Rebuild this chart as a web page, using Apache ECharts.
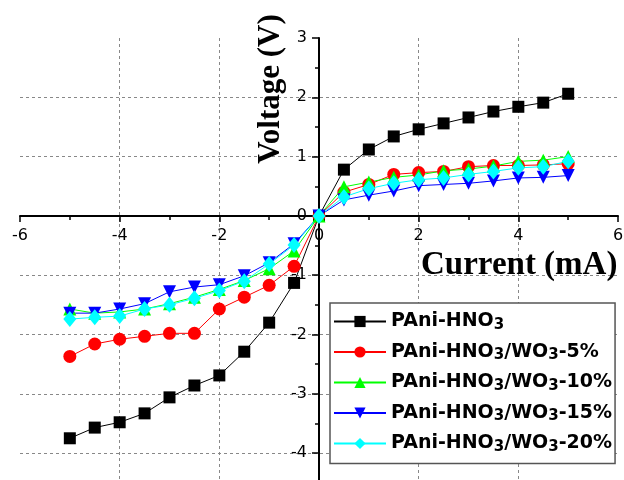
<!DOCTYPE html>
<html><head><meta charset="utf-8">
<script src="https://cdn.jsdelivr.net/npm/echarts@6/dist/echarts.min.js"></script>
<style>html,body{margin:0;padding:0;background:#fff}#c{width:624px;height:480px}</style>
</head><body><div id="c"></div>
<script>
const currentX = [-5,-4.5,-4,-3.5,-3,-2.5,-2,-1.5,-1,-0.5,0,0.5,1,1.5,2,2.5,3,3.5,4,4.5,5];
const vHNO3   = [-3.75,-3.57,-3.48,-3.33,-3.06,-2.86,-2.69,-2.29,-1.80,-1.13,0,0.78,1.12,1.34,1.46,1.56,1.66,1.76,1.84,1.91,2.06];
const vWO3_5  = [-2.37,-2.16,-2.08,-2.03,-1.98,-1.98,-1.57,-1.37,-1.17,-0.85,0,0.40,0.53,0.70,0.73,0.75,0.83,0.85,0.85,0.86,0.88];
const vWO3_10 = [-1.57,-1.64,-1.62,-1.57,-1.48,-1.37,-1.24,-1.09,-0.89,-0.59,0,0.49,0.57,0.65,0.69,0.76,0.79,0.84,0.92,0.94,1.00];
const vWO3_15 = [-1.64,-1.64,-1.57,-1.48,-1.28,-1.20,-1.16,-1.01,-0.79,-0.47,0,0.27,0.35,0.42,0.51,0.53,0.55,0.59,0.64,0.65,0.68];
const vWO3_20 = [-1.74,-1.71,-1.69,-1.57,-1.50,-1.39,-1.26,-1.10,-0.81,-0.49,0,0.32,0.46,0.55,0.61,0.64,0.70,0.75,0.81,0.83,0.92];
const seriesNames = ['PAni-HNO3','PAni-HNO3/WO3-5%','PAni-HNO3/WO3-10%','PAni-HNO3/WO3-15%','PAni-HNO3/WO3-20%'];
const seriesValues = [vHNO3, vWO3_5, vWO3_10, vWO3_15, vWO3_20];
const colors = ['#000000','#ff0000','#00ff00','#0000ff','#00ffff'];
const symbols = ['rect','circle','triangle','triangle','diamond'];
const symbolSizes = [12,13,13,13,[13,16]];
const symbolRotates = [0,0,0,180,0];

const chart = echarts.init(document.getElementById('c'), null, {renderer:'canvas'});
const axisCommon = {
  type:'value',
  axisLine:{onZero:false, lineStyle:{color:'#000', width:2}},
  axisTick:{show:true, length:7, lineStyle:{color:'#000', width:1.5}},
  minorTick:{show:true, splitNumber:2, length:4, lineStyle:{color:'#000', width:1.5}},
  axisLabel:{fontSize:16, fontFamily:'DejaVu Sans', color:'#000', margin:12},
  splitLine:{show:true, showMinLine:false, showMaxLine:false, lineStyle:{type:[3,3], color:'#888', width:1}},
  minorSplitLine:{show:false}
};
chart.setOption({
  animation:false,
  backgroundColor:'#fff',
  grid:{left:20, top:38, width:598, height:474.4, containLabel:false, outerBoundsMode:'none'},
  xAxis:Object.assign({}, axisCommon, {min:-6, max:6, interval:2, position:'bottom', offset:-296.5,
    axisTick:{show:true, length:6, lineStyle:{color:'#000', width:1.5}}}),
  yAxis:Object.assign({}, axisCommon, {min:-5, max:3, interval:1, position:'left', offset:-299}),
  legend:{
    orient:'vertical', left:330, top:303, padding:[9,3,9,3], itemGap:10,
    itemWidth:52, itemHeight:14, borderColor:'#555', borderWidth:1.5,
    backgroundColor:'#fff', selectedMode:false,
    data:seriesNames,
    formatter:function(name){ return '{a|' + name.replace(/O3/g, 'O}{s|3}{a|') + '}'; },
    textStyle:{color:'#000', rich:{
      a:{fontSize:19, fontWeight:'bold', fontFamily:'DejaVu Sans', lineHeight:22, color:'#000'},
      s:{fontSize:15, fontWeight:'bold', fontFamily:'DejaVu Sans', lineHeight:8, verticalAlign:'bottom', color:'#000'}
    }}
  },
  graphic:[
    {type:'text', x:271, y:89, rotation:Math.PI/2, z:100,
     style:{text:'Voltage (V)', x:0, y:0, align:'center', verticalAlign:'middle',
       font:'bold 31px "Liberation Serif", "Times New Roman", serif', fill:'#000'}},
    {type:'text', x:421, y:265, z:100,
     style:{text:'Current (mA)', x:0, y:0, align:'left', verticalAlign:'middle',
       font:'bold 33px "Liberation Serif", "Times New Roman", serif', fill:'#000'}}
  ],
  series:seriesNames.map(function(n,i){
    return {
      name:n, type:'line',
      data:currentX.map(function(x,j){ return [x, seriesValues[i][j]]; }),
      symbol:symbols[i], symbolSize:symbolSizes[i], symbolRotate:symbolRotates[i],
      showAllSymbol:true,
      lineStyle:{color:colors[i], width:1},
      itemStyle:{color:colors[i]},
      emphasis:{disabled:true}
    };
  })
});
</script></body></html>
